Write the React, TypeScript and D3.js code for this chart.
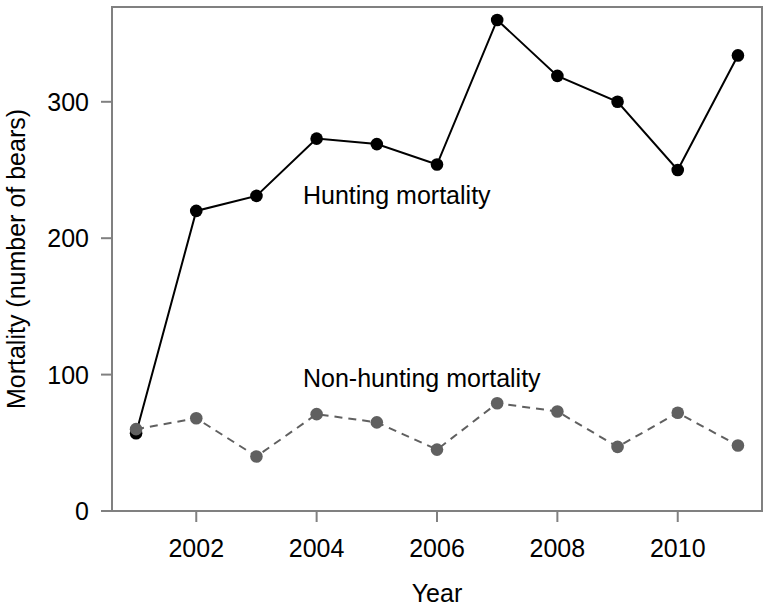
import React, { useEffect, useRef } from 'react';
import * as d3 from 'd3';

// data
const years = [2001, 2002, 2003, 2004, 2005, 2006, 2007, 2008, 2009, 2010, 2011];
const huntingMortality = [57, 220, 231, 273, 269, 254, 360, 319, 300, 250, 334];
const nonHuntingMortality = [60, 68, 40, 71, 65, 45, 79, 73, 47, 72, 48];
const xTicks = [2002, 2004, 2006, 2008, 2010];
const yTicks = [0, 100, 200, 300];

const WIDTH = 770;
const HEIGHT = 609;

const App: React.FC = () => {
  const svgRef = useRef<SVGSVGElement>(null);

  useEffect(() => {
    if (!svgRef.current) return;
    const svg = d3.select(svgRef.current);
    svg.selectAll('*').remove();

    const left = 112;
    const right = 762;
    const top = 7;
    const bottom = 511;
    const font = '"Liberation Sans", Arial, sans-serif';
    const fs = 25;

    const x = d3.scaleLinear().domain([2000.6, 2011.4]).range([left, right]);
    const y = d3.scaleLinear().domain([0, 369.5]).range([bottom, top]);

    // 坐标框
    svg.append('rect')
      .attr('x', left)
      .attr('y', top)
      .attr('width', right - left)
      .attr('height', bottom - top)
      .attr('fill', 'none')
      .attr('stroke', '#808080')
      .attr('stroke-width', 2);

    // x ticks
    const xg = svg.append('g');
    xTicks.forEach(t => {
      xg.append('line')
        .attr('x1', x(t)).attr('x2', x(t))
        .attr('y1', bottom).attr('y2', bottom + 11)
        .attr('stroke', '#808080').attr('stroke-width', 2);
      xg.append('text')
        .attr('x', x(t)).attr('y', 557)
        .attr('text-anchor', 'middle')
        .attr('font-family', font).attr('font-size', fs)
        .attr('fill', '#000')
        .text(String(t));
    });

    // y ticks
    const yg = svg.append('g');
    yTicks.forEach(t => {
      yg.append('line')
        .attr('x1', left - 11).attr('x2', left)
        .attr('y1', y(t)).attr('y2', y(t))
        .attr('stroke', '#808080').attr('stroke-width', 2);
      yg.append('text')
        .attr('x', 89).attr('y', y(t))
        .attr('dy', '0.36em')
        .attr('text-anchor', 'end')
        .attr('font-family', font).attr('font-size', fs)
        .attr('fill', '#000')
        .text(String(t));
    });

    // axis titles
    svg.append('text')
      .attr('x', (left + right) / 2).attr('y', 602)
      .attr('text-anchor', 'middle')
      .attr('font-family', font).attr('font-size', fs)
      .attr('fill', '#000')
      .text('Year');

    svg.append('text')
      .attr('transform', `translate(25, ${(top + bottom) / 2}) rotate(-90)`)
      .attr('text-anchor', 'middle')
      .attr('font-family', font).attr('font-size', fs)
      .attr('fill', '#000')
      .text('Mortality (number of bears)');

    const line = d3.line<number>()
      .x((_, i) => x(years[i]))
      .y(d => y(d));

    // hunting series
    svg.append('path')
      .datum(huntingMortality)
      .attr('d', line)
      .attr('fill', 'none')
      .attr('stroke', '#000')
      .attr('stroke-width', 2);
    svg.selectAll('circle.hunt')
      .data(huntingMortality)
      .enter()
      .append('circle')
      .attr('class', 'hunt')
      .attr('cx', (_, i) => x(years[i]))
      .attr('cy', d => y(d))
      .attr('r', 6.3)
      .attr('fill', '#000');

    // non-hunting series
    svg.append('path')
      .datum(nonHuntingMortality)
      .attr('d', line)
      .attr('fill', 'none')
      .attr('stroke', '#606060')
      .attr('stroke-width', 2)
      .attr('stroke-dasharray', '8,6');
    svg.selectAll('circle.nonhunt')
      .data(nonHuntingMortality)
      .enter()
      .append('circle')
      .attr('class', 'nonhunt')
      .attr('cx', (_, i) => x(years[i]))
      .attr('cy', d => y(d))
      .attr('r', 6.3)
      .attr('fill', '#606060');

    // series labels
    svg.append('text')
      .attr('x', 303).attr('y', 204)
      .attr('font-family', font).attr('font-size', fs)
      .attr('fill', '#000')
      .text('Hunting mortality');

    svg.append('text')
      .attr('x', 303).attr('y', 387)
      .attr('font-family', font).attr('font-size', fs)
      .attr('fill', '#000')
      .text('Non-hunting mortality');
  }, []);

  return (
    <svg
      ref={svgRef}
      width={WIDTH}
      height={HEIGHT}
      style={{ position: 'absolute', left: 0, top: 0, background: '#fff', display: 'block' }}
    />
  );
};

export default App;
